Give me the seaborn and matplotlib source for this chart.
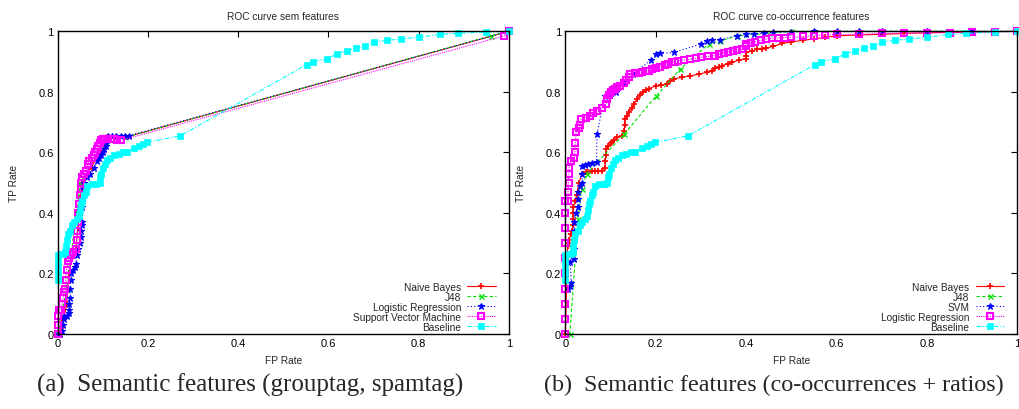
import numpy as np
import pandas as pd
import matplotlib
matplotlib.use("Agg")
import matplotlib.pyplot as plt
import seaborn as sns

# ---------------------------------------------------------
# Data: (FP rate, TP rate) pairs
# ---------------------------------------------------------
tick_values = [0, 0.2, 0.4, 0.6, 0.8, 1]
tick_labels = ["0", "0.2", "0.4", "0.6", "0.8", "1"]

# (a) sem features
sem_nb = [(0, 0), (0.008, 0.02), (0.01, 0.05), (0.015, 0.06), (0.02, 0.1), (0.022, 0.15), (0.025, 0.2),
          (0.03, 0.25), (0.04, 0.28), (0.045, 0.35), (0.05, 0.45), (0.055, 0.5), (0.065, 0.53), (0.075, 0.55),
          (0.085, 0.58), (0.095, 0.6), (0.105, 0.63), (0.11, 0.65), (0.13, 0.65), (0.15, 0.65), (1, 1)]

sem_j48 = [(0, 0), (0.02, 0.15), (0.05, 0.5), (0.1, 0.62), (0.15, 0.65), (0.96, 0.985), (1, 1)]

sem_lr = [(0, 0), (0.006, 0), (0.01, 0.01), (0.012, 0.03), (0.013, 0.05), (0.015, 0.06), (0.02, 0.06),
          (0.024, 0.07), (0.025, 0.08), (0.026, 0.1), (0.027, 0.12), (0.028, 0.15), (0.029, 0.18), (0.03, 0.2),
          (0.035, 0.21), (0.038, 0.22), (0.04, 0.23), (0.043, 0.26), (0.045, 0.28), (0.05, 0.3), (0.051, 0.32),
          (0.052, 0.34), (0.053, 0.36), (0.054, 0.37), (0.055, 0.42), (0.056, 0.45), (0.057, 0.48), (0.058, 0.5),
          (0.065, 0.52), (0.072, 0.53), (0.08, 0.55), (0.087, 0.57), (0.092, 0.58), (0.097, 0.59), (0.1, 0.6),
          (0.103, 0.61), (0.106, 0.62), (0.108, 0.63), (0.11, 0.64), (0.112, 0.655), (0.12, 0.655),
          (0.13, 0.655), (0.14, 0.655), (0.15, 0.655), (0.157, 0.655), (1, 1)]

sem_svm = [(0, 0), (0, 0.03), (0, 0.06), (0.003, 0.08), (0.008, 0.08), (0.01, 0.1), (0.012, 0.12), (0.015, 0.14),
           (0.017, 0.15), (0.018, 0.18), (0.02, 0.21), (0.022, 0.24), (0.025, 0.25), (0.03, 0.26), (0.035, 0.27),
           (0.04, 0.28), (0.042, 0.31), (0.043, 0.34), (0.045, 0.37), (0.046, 0.4), (0.048, 0.43), (0.05, 0.46),
           (0.051, 0.48), (0.052, 0.5), (0.055, 0.52), (0.058, 0.53), (0.063, 0.54), (0.067, 0.56), (0.07, 0.57),
           (0.076, 0.58), (0.08, 0.59), (0.083, 0.6), (0.088, 0.61), (0.09, 0.62), (0.094, 0.63), (0.097, 0.64),
           (0.1, 0.645), (0.103, 0.645), (0.11, 0.645), (0.118, 0.645), (0.125, 0.645), (0.132, 0.64),
           (0.14, 0.64), (0.99, 0.985), (1, 1)]

# baseline (same in both panels)
baseline = [(0, 0.18), (0, 0.2), (0, 0.22), (0, 0.24), (0, 0.26), (0.006, 0.264), (0.012, 0.264), (0.017, 0.27),
            (0.018, 0.29), (0.02, 0.31), (0.022, 0.33), (0.028, 0.34), (0.032, 0.36), (0.037, 0.37),
            (0.043, 0.38), (0.047, 0.39), (0.05, 0.41), (0.052, 0.43), (0.055, 0.44), (0.058, 0.46),
            (0.062, 0.47), (0.065, 0.49), (0.075, 0.495), (0.085, 0.495), (0.093, 0.5), (0.094, 0.52),
            (0.096, 0.53), (0.1, 0.55), (0.105, 0.56), (0.11, 0.575), (0.117, 0.58), (0.125, 0.59),
            (0.135, 0.595), (0.145, 0.6), (0.154, 0.6), (0.17, 0.615), (0.18, 0.62), (0.19, 0.627),
            (0.198, 0.633), (0.272, 0.655), (0.552, 0.89), (0.565, 0.9), (0.596, 0.908), (0.618, 0.925),
            (0.64, 0.935), (0.66, 0.945), (0.68, 0.95), (0.7, 0.965), (0.73, 0.97), (0.76, 0.975), (0.8, 0.98),
            (0.847, 0.99), (0.887, 0.993), (0.95, 0.998), (1, 1)]

# (b) co-occurrence features
co_nb = [(0, 0), (0.005, 0.29), (0.008, 0.3), (0.008, 0.31), (0.012, 0.33), (0.015, 0.34), (0.017, 0.36),
         (0.017, 0.38), (0.018, 0.4), (0.018, 0.42), (0.022, 0.44), (0.025, 0.46), (0.03, 0.5), (0.037, 0.53),
         (0.045, 0.535), (0.05, 0.535), (0.058, 0.54), (0.065, 0.54), (0.072, 0.54), (0.08, 0.54), (0.088, 0.55),
         (0.088, 0.57), (0.09, 0.59), (0.09, 0.61), (0.095, 0.62), (0.1, 0.63), (0.104, 0.635), (0.108, 0.64),
         (0.115, 0.65), (0.125, 0.655), (0.13, 0.67), (0.131, 0.69), (0.132, 0.71), (0.136, 0.72), (0.14, 0.735),
         (0.148, 0.745), (0.152, 0.76), (0.158, 0.775), (0.165, 0.79), (0.172, 0.8), (0.178, 0.805),
         (0.185, 0.81), (0.2, 0.82), (0.212, 0.822), (0.224, 0.826), (0.232, 0.835), (0.24, 0.843),
         (0.258, 0.848), (0.276, 0.853), (0.295, 0.858), (0.313, 0.865), (0.325, 0.87), (0.332, 0.878),
         (0.34, 0.882), (0.347, 0.887), (0.36, 0.893), (0.369, 0.898), (0.385, 0.905), (0.4, 0.91), (0.4, 0.92),
         (0.4, 0.93), (0.412, 0.935), (0.424, 0.94), (0.435, 0.942), (0.445, 0.945), (0.46, 0.95), (0.48, 0.96),
         (0.5, 0.965), (0.525, 0.97), (0.55, 0.975), (0.575, 0.98), (0.6, 0.985), (0.65, 0.988), (0.7, 0.99),
         (0.75, 0.993), (0.8, 0.995), (0.9, 0.998), (1, 1)]

co_j48 = [(0.01, 0), (0.028, 0.38), (0.036, 0.48), (0.047, 0.53), (0.13, 0.66), (0.2, 0.785), (0.254, 0.875),
          (0.317, 0.958), (0.343, 0.968), (0.38, 0.985), (0.46, 0.995), (0.5, 1.0), (1, 1)]

co_svm = [(0.005, 0.15), (0.01, 0.16), (0.013, 0.17), (0.011, 0.237), (0.019, 0.248), (0.019, 0.28),
          (0.019, 0.31), (0.019, 0.34), (0.019, 0.37), (0.024, 0.4), (0.028, 0.42), (0.028, 0.445),
          (0.028, 0.468), (0.033, 0.49), (0.037, 0.5), (0.037, 0.53), (0.037, 0.556), (0.044, 0.558),
          (0.05, 0.56), (0.06, 0.565), (0.069, 0.569), (0.07, 0.66), (0.087, 0.787), (0.1, 0.795), (0.113, 0.8),
          (0.13, 0.83), (0.15, 0.86), (0.19, 0.905), (0.2, 0.925), (0.21, 0.927), (0.24, 0.93), (0.3, 0.958),
          (0.313, 0.969), (0.325, 0.97), (0.343, 0.972), (0.38, 0.986), (0.4, 0.99), (0.417, 0.991),
          (0.44, 0.993), (0.46, 0.997), (0.5, 0.998), (0.55, 1.0), (0.6, 1.0), (0.65, 1.0), (0.7, 1.0),
          (0.8, 1.0), (0.9, 1.0), (1, 1)]

co_lr = [(0, 0), (0, 0.05), (0, 0.1), (0, 0.15), (0, 0.2), (0, 0.25), (0, 0.3), (0, 0.35), (0, 0.4), (0, 0.44),
         (0.006, 0.44), (0.006, 0.47), (0.007, 0.5), (0.008, 0.53), (0.008, 0.55), (0.013, 0.573), (0.02, 0.58),
         (0.021, 0.6), (0.022, 0.63), (0.024, 0.666), (0.03, 0.68), (0.032, 0.69), (0.035, 0.71), (0.045, 0.715),
         (0.055, 0.72), (0.062, 0.73), (0.07, 0.738), (0.08, 0.745), (0.09, 0.76), (0.092, 0.776), (0.096, 0.79),
         (0.1, 0.8), (0.105, 0.805), (0.11, 0.81), (0.115, 0.815), (0.12, 0.82), (0.13, 0.83), (0.135, 0.84),
         (0.14, 0.85), (0.143, 0.86), (0.155, 0.862), (0.162, 0.863), (0.17, 0.865), (0.178, 0.868),
         (0.185, 0.87), (0.192, 0.874), (0.2, 0.878), (0.21, 0.883), (0.22, 0.89), (0.228, 0.893),
         (0.235, 0.897), (0.242, 0.9), (0.25, 0.903), (0.262, 0.905), (0.275, 0.908), (0.288, 0.911),
         (0.3, 0.914), (0.315, 0.917), (0.33, 0.92), (0.34, 0.924), (0.35, 0.928), (0.36, 0.932), (0.37, 0.936),
         (0.38, 0.938), (0.39, 0.94), (0.4, 0.95), (0.4, 0.958), (0.41, 0.962), (0.42, 0.965), (0.432, 0.97),
         (0.445, 0.975), (0.458, 0.977), (0.47, 0.978), (0.485, 0.979), (0.5, 0.98), (0.525, 0.983),
         (0.55, 0.985), (0.575, 0.988), (0.6, 0.99), (0.65, 0.99), (0.7, 0.993), (0.75, 0.994), (0.8, 0.995),
         (0.85, 0.996), (0.9, 0.997), (0.95, 0.998), (1, 1)]

# ---------------------------------------------------------
# Styling
# ---------------------------------------------------------
sns.set_theme(style="white")
plt.rcParams['font.family'] = ['Liberation Sans', 'DejaVu Sans']
plt.rcParams['axes.edgecolor'] = 'black'
plt.rcParams['axes.linewidth'] = 1.0

styles = {
    'nb':   dict(color='#ff0000', marker='+', linestyle='-', markersize=4.5, markeredgewidth=1.2,
                 markeredgecolor='#ff0000'),
    'j48':  dict(color='#00e000', marker='x', linestyle=(0, (3, 2)), markersize=3.6, markeredgewidth=1.0,
                 markeredgecolor='#00e000'),
    'lr':   dict(color='#0000ff', marker='*', linestyle=(0, (1, 2)), markersize=5, markeredgewidth=0.8,
                 markeredgecolor='#0000ff'),
    'svm':  dict(color='#ff00ff', marker='s', linestyle=(0, (1, 1)), markersize=3.8, markeredgewidth=1.5,
                 markerfacecolor='none', markeredgecolor='#ff00ff'),
    'base': dict(color='#00ffff', marker='s', linestyle=(0, (4, 1.5, 1, 1.5)), markersize=4.5,
                 markeredgewidth=0.5, markeredgecolor='#00ffff'),
}
# in panel (b) SVM is blue stars and LR is magenta squares
styles['svm_b'] = styles['lr']
styles['lr_b'] = styles['svm']

fig = plt.figure(figsize=(10.19, 4.10), dpi=100)
ax1 = fig.add_axes([0.0566, 0.1829, 0.4429, 0.7383])
ax2 = fig.add_axes([0.5548, 0.1829, 0.4436, 0.7383])

panel_a = [
    ("Naive Bayes", sem_nb, 'nb'),
    ("J48", sem_j48, 'j48'),
    ("Logistic Regression", sem_lr, 'lr'),
    ("Support Vector Machine", sem_svm, 'svm'),
    ("Baseline", baseline, 'base'),
]
panel_b = [
    ("Naive Bayes", co_nb, 'nb'),
    ("J48", co_j48, 'j48'),
    ("SVM", co_svm, 'svm_b'),
    ("Logistic Regression", co_lr, 'lr_b'),
    ("Baseline", baseline, 'base'),
]

for ax, panel, title in [(ax1, panel_a, "ROC curve sem features"),
                         (ax2, panel_b, "ROC curve co-occurrence features")]:
    for name, pts, key in panel:
        fpr, tpr = zip(*pts)
        sns.lineplot(x=list(fpr), y=list(tpr), ax=ax, sort=False, estimator=None, label=name,
                     linewidth=0.8, clip_on=False, **styles[key])
    ax.set_xlim(0, 1)
    ax.set_ylim(0, 1)
    ax.set_xticks(tick_values)
    ax.set_xticklabels(tick_labels)
    ax.set_yticks(tick_values)
    ax.set_yticklabels(tick_labels)
    ax.tick_params(direction='in', length=4, width=0.8, top=True, right=True,
                   labelsize=8, pad=3, colors='black')
    ax.set_xlabel("FP Rate", fontsize=7.3, labelpad=5)
    ax.set_ylabel("TP Rate", fontsize=7.3, labelpad=14)
    ax.set_title(title, fontsize=7.3, pad=9)
    for sp in ax.spines.values():
        sp.set_visible(True)
        sp.set_color('black')
    ax.legend(loc='lower right', bbox_to_anchor=(0.975, 0.0), markerfirst=False, frameon=False,
              fontsize=7.3, labelspacing=0.0, handlelength=2.8, handletextpad=0.6,
              borderaxespad=0.1, borderpad=0.1, numpoints=1)

fig.text(0.2458, 0.061, "(a)  Semantic features (grouptag, spamtag)", ha='center', va='center',
         fontsize=18, family='Liberation Serif')
fig.text(0.7596, 0.061, "(b)  Semantic features (co-occurrences + ratios)", ha='center', va='center',
         fontsize=17.4, family='Liberation Serif')

fig.savefig("out.png", dpi=100)
